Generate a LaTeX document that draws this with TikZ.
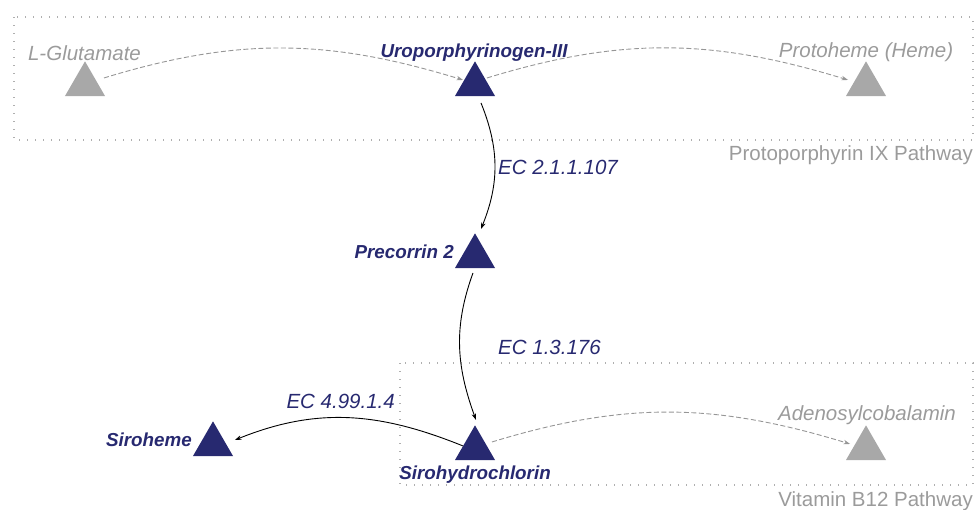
\documentclass[tikz,border=0pt]{standalone}
\usepackage{fontspec}
\setmainfont{Liberation Sans}
\usetikzlibrary{shapes.geometric,arrows.meta}
\definecolor{navy}{RGB}{39,41,112}
\definecolor{tri gray}{RGB}{168,168,168}
\definecolor{txt gray}{RGB}{155,155,155}
\definecolor{box gray}{RGB}{175,175,175}
\definecolor{dash gray}{RGB}{150,150,150}
\tikzset{
  mol/.style={regular polygon, regular polygon sides=3, minimum size=46.2pt, inner sep=0pt, outer sep=0pt, draw=none},
  activemol/.style={mol, fill=navy},
  othermol/.style={mol, fill=tri gray},
  lbl/.style={inner sep=0pt, font=\fontsize{20.5}{24}\selectfont},
  activelbl/.style={lbl, text=navy, font=\fontsize{18.8}{22}\selectfont\bfseries\itshape},
  otherlbl/.style={lbl, text=txt gray, font=\fontsize{20.5}{24}\selectfont\itshape},
  eclbl/.style={lbl, text=navy, font=\fontsize{20.5}{24}\selectfont\itshape},
  pathlbl/.style={lbl, text=txt gray},
  pathbox/.style={draw=box gray, line width=1.2pt, dash pattern=on 1.2pt off 6.8pt},
  rxn/.style={draw=black, line width=0.9pt, -{Stealth[length=6.5pt,width=4.5pt,inset=2pt]}},
  xrxn/.style={draw=dash gray, line width=0.9pt, dash pattern=on 5pt off 2.5pt, -{Stealth[length=6.5pt,width=4.5pt,inset=2pt]}}
}
\begin{document}
\begin{tikzpicture}[x=1pt,y=-1pt]
\useasboundingbox (0,0) rectangle (976,509);
% pathway boxes
\draw[pathbox] (14,17) rectangle (973,140);
\draw[pathbox] (400,363) rectangle (973,485);
\node[pathlbl, anchor=base east] (pp) at (973,160.5) {Protoporphyrin IX Pathway};
\node[pathlbl, anchor=base east] (b12) at (973,506.5) {Vitamin B12 Pathway};
% molecules
\node[othermol] (glu) at (85,84.45) {};
\node[activemol] (uro) at (475,84.45) {};
\node[othermol] (heme) at (866,84.45) {};
\node[activemol] (prec) at (475,256.45) {};
\node[activemol] (siroh) at (475,448.45) {};
\node[activemol] (sirohe) at (213,444.45) {};
\node[othermol] (ado) at (866,448.45) {};
% labels
\node[otherlbl, anchor=base] (gluL) at (84.5,60.5) {L-Glutamate};
\node[activelbl, anchor=base] (uroL) at (474,57) {Uroporphyrinogen-III};
\node[otherlbl, anchor=base] (hemeL) at (866,57) {Protoheme (Heme)};
\node[activelbl, anchor=base east] (precL) at (454,258) {Precorrin 2};
\node[activelbl, anchor=base] (sirohL) at (475,479) {Sirohydrochlorin};
\node[activelbl, anchor=base east] (siroheL) at (192,446) {Siroheme};
\node[otherlbl, anchor=base] (adoL) at (867,420) {Adenosylcobalamin};
\node[eclbl, anchor=base west] (ec1) at (498,174) {EC 2.1.1.107};
\node[eclbl, anchor=base west] (ec2) at (498,354) {EC 1.3.176};
\node[eclbl, anchor=base east] (ec3) at (395,408) {EC 4.99.1.4};
% reactions
\draw[xrxn] ([shift={(19,-6.5)}]glu.center) to[out=17,in=163] ([shift={(-12,-4.5)}]uro.center);
\draw[xrxn] ([shift={(12,-6.5)}]uro.center) to[out=17,in=163] ([shift={(-18,-4.5)}]heme.center);
\draw[xrxn] ([shift={(17,-6.5)}]siroh.center) to[out=17,in=163] ([shift={(-16,-4.5)}]ado.center);
\draw[rxn] ([shift={(6,18.5)}]uro.center) to[out=-68,in=68] ([shift={(6,-27.5)}]prec.center);
\draw[rxn] ([shift={(-2,16.5)}]prec.center) to[out=-110,in=110] ([shift={(1,-28.5)}]siroh.center);
\draw[rxn] ([shift={(-12,-2.5)}]siroh.center) to[out=158,in=22] ([shift={(22,-4.5)}]sirohe.center);
\end{tikzpicture}
\end{document}
